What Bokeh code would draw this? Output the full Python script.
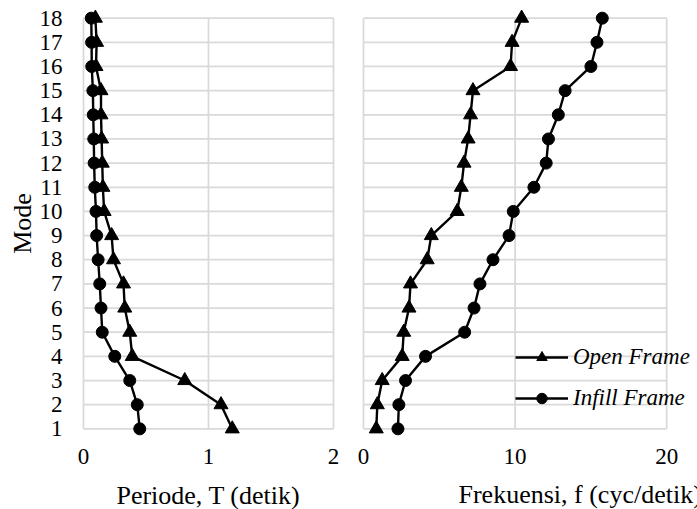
from bokeh.plotting import figure
from bokeh.layouts import row
from bokeh.models import Range1d, FixedTicker, Title, Legend, LegendItem
from bokeh.embed import file_html
from bokeh.resources import INLINE

# ---- data ----
modes = list(range(1, 19))
period_open = [1.19, 1.10, 0.81, 0.39, 0.37, 0.33, 0.32, 0.24, 0.225, 0.165,
               0.155, 0.15, 0.145, 0.14, 0.14, 0.10, 0.105, 0.095]
period_infill = [0.45, 0.43, 0.37, 0.25, 0.15, 0.14, 0.13, 0.117, 0.105, 0.10,
                 0.09, 0.085, 0.082, 0.078, 0.075, 0.066, 0.065, 0.062]
freq_open = [0.84, 0.91, 1.23, 2.55, 2.65, 3.0, 3.1, 4.2, 4.47, 6.18,
             6.45, 6.63, 6.9, 7.06, 7.22, 9.7, 9.8, 10.43]
freq_infill = [2.27, 2.33, 2.77, 4.09, 6.67, 7.29, 7.68, 8.54, 9.6, 9.88,
               11.24, 12.05, 12.2, 12.85, 13.3, 15.0, 15.4, 15.75]
mode_ticks = list(range(1, 19))
period_ticks = [0, 1, 2]
freq_ticks = [0, 10, 20]
series_names = ["Open Frame", "Infill Frame"]

FONT = "Liberation Serif"
GRID = "#d9d9d9"


def panel(x_ticks, x_start, x_end, left_border, right_border, frame_w):
    p = figure(frame_width=frame_w, frame_height=430,
               x_range=Range1d(x_start, x_end),
               y_range=Range1d(0.6, 18.4),
               output_backend="svg", toolbar_location=None,
               min_border_left=left_border, min_border_right=right_border,
               min_border_top=8, min_border_bottom=71,
               background_fill_color="white", border_fill_color="white")
    p.outline_line_color = None
    p.xgrid.visible = False
    p.ygrid.visible = False
    n = len(mode_ticks)
    p.segment(x0=[x_ticks[0]] * n, x1=[x_ticks[-1]] * n, y0=mode_ticks, y1=mode_ticks,
              line_color=GRID, line_width=1.75)
    m = len(x_ticks)
    p.segment(x0=x_ticks, x1=x_ticks, y0=[mode_ticks[0]] * m, y1=[mode_ticks[-1]] * m,
              line_color=GRID, line_width=1.75)
    for ax in (p.xaxis[0], p.yaxis[0]):
        ax.axis_line_color = None
        ax.major_tick_line_color = None
        ax.minor_tick_line_color = None
        ax.major_tick_in = 0
        ax.major_tick_out = 0
        ax.major_label_text_font = FONT
        ax.major_label_text_font_size = "23px"
        ax.major_label_text_color = "black"
        ax.axis_label_text_font = FONT
        ax.axis_label_text_font_size = "26px"
        ax.axis_label_text_font_style = "normal"
        ax.axis_label_text_color = "black"
    p.xaxis.ticker = FixedTicker(ticks=x_ticks)
    p.xaxis.major_label_standoff = 10
    p.yaxis.ticker = FixedTicker(ticks=mode_ticks)
    return p


def draw(p, xo, xi):
    l1 = p.line(xo, modes, line_color="black", line_width=2.4)
    s1 = p.scatter(xo, modes, marker="triangle", size=14,
                   fill_color="black", line_color="black")
    l2 = p.line(xi, modes, line_color="black", line_width=2.4)
    s2 = p.scatter(xi, modes, marker="circle", size=12,
                   fill_color="black", line_color="black")
    return (l1, s1), (l2, s2)


p1 = panel(period_ticks, -0.04, 2.04, 78, 5, 260)
p1.yaxis.axis_label = "Mode"
p1.yaxis.major_label_standoff = 16
p1.yaxis.axis_label_standoff = 0
p1.xaxis.axis_label = "Periode, T (detik)"
p1.xaxis.axis_label_standoff = 14
draw(p1, period_open, period_infill)

# right panel: frame extends past 20 so the legend fits (grid stops at 20)
p2 = panel(freq_ticks, -0.2, 21.9, 17, 2, 335)
p2.yaxis.visible = False
ro, ri = draw(p2, freq_open, freq_infill)

legend = Legend(items=[LegendItem(label=series_names[0], renderers=list(ro)),
                       LegendItem(label=series_names[1], renderers=list(ri))],
                location=(155, 25), padding=0, margin=0, spacing=11,
                glyph_width=53, glyph_height=26, label_height=30, label_standoff=5,
                border_line_color=None, background_fill_alpha=0,
                label_text_font=FONT, label_text_font_style="italic",
                label_text_font_size="23px", label_text_color="black")
p2.add_layout(legend)

p2.add_layout(Title(text="Frekuensi, f (cyc/detik)", align="left", offset=98,
                    standoff=22, text_font=FONT, text_font_size="26px",
                    text_font_style="normal", text_color="black"), "below")

layout = row(p1, p2, spacing=0)
open("out.html", "w").write(file_html(layout, INLINE))
